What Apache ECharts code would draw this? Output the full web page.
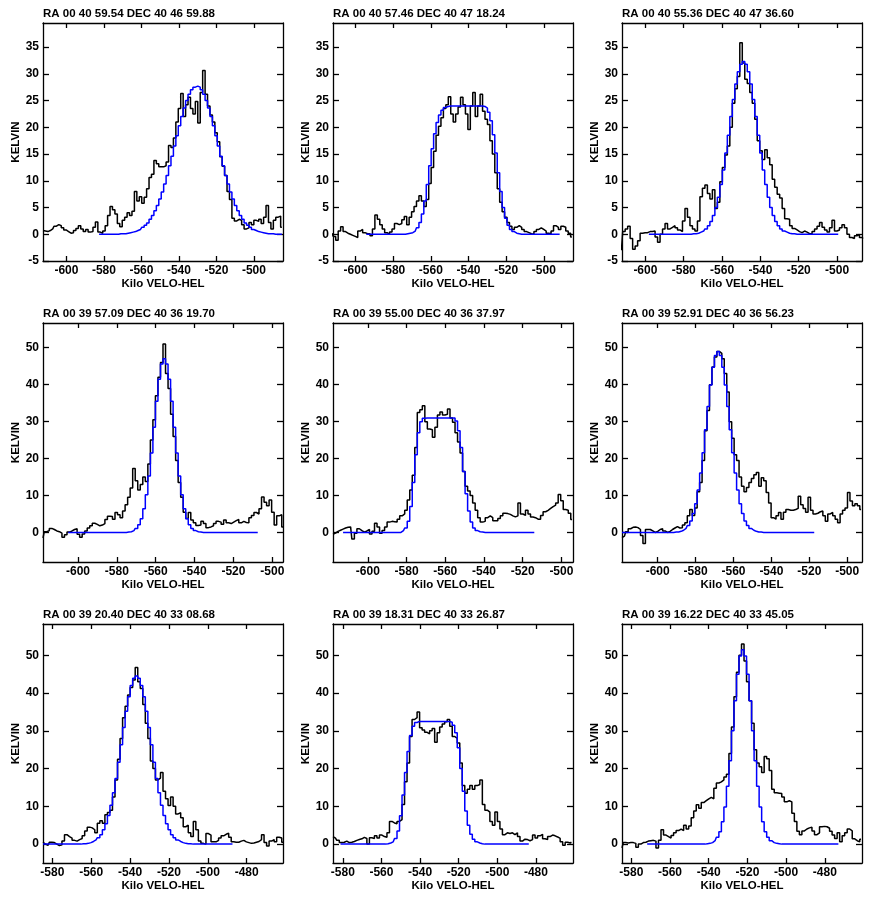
<!DOCTYPE html>
<html>
<head>
<meta charset="utf-8">
<title>HI spectra</title>
<script src="https://cdn.jsdelivr.net/npm/echarts@6/dist/echarts.min.js"></script>
<style>
    html, body { margin: 0; padding: 0; background: #fff; }
    #myChart { width: 872px; height: 921px; }
</style>
</head>
<body>
<div id="myChart"></div>
<script>
    // channel width of the spectra (km/s)
    const CHAN = 1.3;

    const titles = [
        'RA 00 40 59.54 DEC 40 46 59.88', 'RA 00 40 57.46 DEC 40 47 18.24', 'RA 00 40 55.36 DEC 40 47 36.60',
        'RA 00 39 57.09 DEC 40 36 19.70', 'RA 00 39 55.00 DEC 40 36 37.97', 'RA 00 39 52.91 DEC 40 36 56.23',
        'RA 00 39 20.40 DEC 40 33 08.68', 'RA 00 39 18.31 DEC 40 33 26.87', 'RA 00 39 16.22 DEC 40 33 45.05'
    ];

    // tick labels
    const xTicksA = [-600, -580, -560, -540, -520, -500];
    const xTicksB = [-580, -560, -540, -520, -500, -480];
    const yTicksA = [-5, 0, 5, 10, 15, 20, 25, 30, 35];
    const yTicksB = [0, 10, 20, 30, 40, 50];

    // axis extents per panel / per row
    const xRanges = [
        [-612.5, -484.5], [-612, -484.5], [-612.2, -487],
        [-618, -494.5], [-618, -494], [-618.8, -492.2],
        [-584.8, -461.3], [-585.1, -460.8], [-584.8, -460.8]
    ];
    const yRanges = [[-5, 39.5], [-8, 56.7], [-5, 58.3]];

    // velocity of the first channel of each observed spectrum / fit
    const specStart = [-612.5, -612.5, -612.5, -618, -618, -618.8, -584.8, -585.1, -584.8];
    const fitStart = [-582.6, -594.3, -598.2, -605, -612.8, -618.8, -584.8, -581.2, -571.8];

    // observed brightness temperature (K)
    const spec1 = [0.7,0.6,0.5,0.7,1.0,1.5,1.8,1.6,1.2,0.8,
        0.5,0.2,0.3,0.7,1.1,1.6,1.0,0.5,0.9,0.4,
        0.5,1.3,2.3,0.4,0.2,0.6,1.6,3.5,5.2,4.6,
        3.8,2.0,1.4,2.6,3.2,4.0,3.5,4.3,8.0,6.2,
        7.0,5.8,6.9,8.5,10.6,11.2,13.8,13.2,12.6,12.6,
        12.8,13.5,16.6,16.2,18.0,21.0,23.5,26.3,22.0,24.2,
        25.6,23.5,22.5,24.8,20.8,26.5,30.6,26.2,24.0,22.3,
        21.0,19.0,17.3,14.5,12.7,11.0,8.0,6.5,3.0,2.5,
        2.8,2.6,1.8,1.0,1.2,2.2,1.8,2.6,2.4,2.8,
        2.0,3.2,5.4,2.2,1.0,2.6,3.2,3.4,1.3];
    const spec2 = [0.2,-0.4,-1.1,0.6,1.4,0.5,0.2,0.0,-0.2,-0.4,
        -0.6,0.6,0.9,0.3,0.1,0.1,-0.3,1.0,3.6,2.8,
        1.8,1.0,0.3,0.0,0.4,1.0,2.0,1.8,2.0,2.7,
        3.3,1.8,3.2,4.2,5.2,6.2,7.2,6.2,5.2,6.5,
        9.5,12.5,15.5,18.5,20.2,21.8,23.5,24.2,25.7,22.5,
        21.0,22.5,23.8,25.6,24.2,22.5,19.6,24.0,26.5,22.0,
        24.0,26.2,23.0,21.5,20.5,17.5,15.0,11.5,8.5,6.0,
        4.2,3.2,2.2,1.5,0.9,1.3,1.6,1.3,0.9,0.5,
        0.3,0.1,0.0,0.5,0.9,1.2,0.9,0.6,0.2,0.1,
        0.6,1.6,1.3,0.9,1.5,1.3,0.6,0.2,-0.5];
    const spec3 = [-3.0,0.5,1.0,1.5,-0.8,-2.8,-2.2,-1.2,0.2,0.3,
        0.3,0.5,0.5,0.6,-0.5,-1.5,0.0,1.0,2.0,1.0,
        1.3,1.6,1.2,0.8,0.5,2.5,4.8,3.2,1.6,1.0,
        0.6,2.5,7.0,8.6,9.2,7.6,6.6,8.3,4.8,6.0,
        9.8,12.5,14.8,16.5,20.0,24.5,27.2,29.5,35.8,32.0,
        29.0,28.2,26.5,24.5,21.5,17.5,15.6,14.0,15.8,14.3,
        13.0,10.3,8.8,7.5,6.8,4.8,2.9,2.8,1.6,1.1,
        0.8,0.5,0.3,0.6,0.4,0.1,0.1,0.5,1.0,1.5,
        2.2,1.3,0.8,0.4,1.2,2.6,0.6,0.8,1.2,1.8,
        1.2,0.0,-0.6,-0.8,-0.3,0.0,-0.6,-0.8];
    const spec4 = [-1.5,0.2,0.5,1.1,0.8,0.4,0.2,-0.2,-1.3,-0.6,
        0.1,0.4,0.8,1.0,-0.5,-1.3,-0.4,0.4,1.2,1.8,
        2.5,2.2,1.8,2.0,2.4,3.5,4.4,4.3,3.6,5.4,
        4.8,4.0,5.8,7.5,9.5,12.0,17.3,14.0,11.5,13.0,
        15.0,13.8,18.5,25.0,30.5,37.0,42.0,46.0,51.0,43.0,
        39.0,32.0,26.0,19.5,13.5,9.5,5.5,3.8,5.4,3.4,
        2.6,1.9,2.0,3.0,2.4,1.3,1.5,1.8,2.4,3.0,
        2.8,2.2,3.4,2.6,2.4,2.8,3.2,3.5,2.6,3.0,
        2.7,2.6,4.0,4.6,5.4,5.0,6.4,9.6,8.2,7.2,
        8.8,5.5,2.0,4.5,4.8,1.5];
    const spec5 = [-0.5,-0.2,0.3,0.6,0.9,1.2,1.4,1.5,-1.8,-0.2,
        1.0,0.5,0.1,0.4,0.8,-0.4,0.3,2.5,1.5,-0.2,
        0.5,1.5,2.8,3.0,2.9,2.8,3.6,4.5,5.0,6.0,
        8.8,11.5,15.5,23.0,32.5,33.2,34.3,30.0,28.0,27.8,
        25.8,28.5,31.8,32.6,31.8,32.0,33.4,31.0,29.8,27.0,
        24.5,21.5,16.5,12.5,11.2,10.0,8.0,6.0,4.0,2.8,
        3.0,4.0,4.5,4.0,3.2,3.2,3.8,4.5,5.2,5.1,
        4.9,4.5,4.2,4.5,8.0,5.0,4.6,6.0,5.0,4.2,
        4.0,3.6,3.6,4.6,5.6,6.0,6.5,7.0,7.4,8.0,
        10.3,8.6,6.2,6.0,5.2,3.5];
    const spec6 = [-1.4,-1.0,0.2,1.0,1.4,1.5,1.3,0.8,-0.8,-3.0,
        0.8,0.8,0.4,0.0,0.3,0.8,1.0,0.4,0.0,0.3,
        0.8,1.2,1.6,1.2,1.3,2.0,2.6,4.5,6.2,4.6,
        6.6,11.0,13.5,19.5,27.5,33.0,40.0,44.8,47.5,49.0,
        48.5,47.0,43.0,38.0,30.0,25.5,21.0,19.5,15.0,12.5,
        11.0,12.2,13.5,14.6,15.6,16.2,12.5,14.8,14.0,10.8,
        8.0,4.0,3.6,4.5,5.4,3.6,5.5,6.2,6.0,6.0,
        6.2,6.5,9.8,7.5,6.5,5.5,9.5,6.0,5.0,5.2,
        5.6,5.8,4.5,3.0,5.0,5.4,4.5,3.6,2.6,5.0,
        6.0,6.6,10.8,8.5,7.2,7.8,7.2,6.2];
    const spec7 = [0.5,0.0,-0.3,0.5,0.4,0.0,-0.4,-0.2,0.8,2.5,
        2.0,1.6,1.0,0.8,1.2,1.5,2.2,3.5,4.5,4.3,
        3.8,3.0,5.5,6.2,5.5,7.8,8.4,9.0,12.5,17.0,
        22.5,28.0,33.5,36.5,39.5,41.5,43.5,46.8,43.0,41.2,
        37.0,32.0,28.0,22.0,20.0,17.0,17.5,19.0,14.0,12.0,
        10.2,12.5,10.0,8.0,8.3,7.0,4.6,5.0,3.0,2.0,
        6.0,3.8,0.8,0.2,0.0,2.8,2.4,0.6,0.6,1.0,
        1.6,2.2,2.6,2.9,1.8,0.6,0.5,0.5,0.8,1.0,
        0.6,0.4,0.2,0.3,0.5,0.7,1.2,2.5,0.4,-0.5,
        0.8,1.2,0.6,1.8,1.6,0.5];
    const spec8 = [2.0,1.6,1.0,0.4,0.5,0.8,0.4,0.5,0.7,1.0,
        1.2,1.4,1.8,1.5,0.0,1.7,1.5,2.2,1.6,2.4,
        2.0,1.8,3.0,6.0,5.6,5.4,6.0,6.5,10.5,16.5,
        21.5,28.5,33.0,33.5,35.0,30.8,30.2,29.6,29.2,30.0,
        30.6,27.0,29.5,31.0,31.8,32.4,33.0,31.2,28.5,28.0,
        26.8,21.5,15.5,13.5,14.5,15.5,14.5,15.5,15.8,17.0,
        10.5,9.0,8.5,6.0,5.0,8.5,6.0,4.0,2.5,3.0,
        2.8,3.0,2.5,3.0,2.0,0.8,1.3,1.2,0.9,1.2,
        2.4,1.6,2.2,2.6,1.4,1.2,2.0,2.4,2.2,1.9,
        1.5,0.6,-0.3,0.5,0.3,0.5];
    const spec9 = [-1.0,0.4,0.3,0.4,0.4,0.2,-0.8,0.0,0.4,0.5,
        0.8,0.9,1.0,0.8,-1.0,1.0,3.8,2.4,2.0,1.6,
        2.3,3.0,3.6,4.0,3.6,5.0,4.0,4.8,7.0,8.8,
        10.4,9.5,11.0,11.5,12.0,12.4,12.0,14.8,16.2,16.5,
        17.0,17.8,18.5,24.0,31.0,39.0,45.5,50.0,53.0,48.5,
        43.0,38.0,32.0,25.0,21.5,20.5,19.0,23.2,22.6,19.5,
        14.5,13.6,13.5,13.4,12.5,11.2,11.5,11.2,8.2,6.0,
        3.4,2.5,3.5,4.0,4.3,4.5,3.5,2.5,3.0,4.6,
        4.7,4.6,4.2,3.4,2.4,1.5,3.0,0.6,2.2,3.0,
        4.0,3.5,1.4,0.9,0.6,1.3];

    // fitted profiles (K)
    const fit1 = [0,0,0,0,0, 0,0,0,0,0.1, 0.1,0.1,0.2,0.3,0.4, 0.5,0.7,0.9,1.3,1.7,
        2.1,2.8,3.5,4.4,5.4, 6.6,7.9,9.4,11.0,12.8, 14.6,16.5,18.4,20.3,22.0, 23.6,25.0,26.2,27.0,27.5,
        27.7,
        27.5,27.0,26.2,25.0,23.6, 22.0,20.3,18.4,16.5,14.6, 12.8,11.0,9.4,7.9,6.6, 5.4,4.4,3.5,2.8,2.1,
        1.7,1.3,0.9,0.7,0.5, 0.4,0.3,0.2,0.1,0.1, 0.1,0,0,0,0];
    const fit2 = [0,0,0,0,0,0,0,0,0,0,0,0,0,0,0,0,
        0.0,0.1,0.2,
        0.3,0.6,1.2,2.2,3.8,6.2,9.3,12.8,16.0,18.8,20.9,22.3,23.2,23.7,23.9,
        24,24,24,24,24,24,24,24,24,24,24,24,24,24,
        23.9,23.6,22.8,21.2,18.6,15.2,11.5,8.0,5.0,3.0,1.7,0.9,0.5,0.2,0.1,
        0,0,0,0,0,0,0,0,0,0,0,0,0,0,0,0,0];
    const fit3 = [0,0,0,0,0,0,0,0,0,0,0,0,0,0,0,0,0,
        0.0,0.1,0.1,0.2,0.4,0.6,1.0,1.6,2.4,3.5,5.0,6.9,9.3,12.0,15.2,18.5,22.0,25.2,28.1,30.4,31.8,
        32.3,
        31.8,30.4,28.1,25.2,22.0,18.5,15.2,12.0,9.3,6.9,5.0,3.5,2.4,1.6,1.0,0.6,0.4,0.2,0.1,0.1,0.0,
        0,0,0,0,0,0,0,0,0,0,0,0,0,0,0,0,0];
    const fit4 = [0,0,0,0,0,0,0,0,0,0,0,0,0,0,0,0,0,0,0,0,0,0,0,
        0.0,0.1,0.2,0.5,1.1,2.1,3.7,6.4,10.2,15.3,21.5,28.5,35.5,41.5,45.6,
        47.0,
        45.6,41.5,35.5,28.5,21.5,15.3,10.2,6.4,3.7,2.1,1.1,0.5,0.2,0.1,0.0,
        0,0,0,0,0,0,0,0,0,0,0,0,0,0,0,0,0,0,0,0,0,0];
    const fit5 = [0,0,0,0,0,0,0,0,0,0,0,0,0,0,0,0,0,0,0,0,0,0,0,0,
        0.5,1.2,3.0,7.0,13.5,21.0,27.0,30.0,30.9,
        31,31,31,31,31,31,31,31,31,31,31,31,
        30.2,27.5,23.0,16.5,10.5,5.8,2.8,1.2,0.5,0.2,0.1,
        0,0,0,0,0,0,0,0,0,0,0,0,0,0,0,0,0,0,0,0,0];
    const fit6 = [0,0,0,0,0,0,0,0,0,0,0,0,0,0,0,0,0,0,0,0,0,0,
        0.1,0.1,0.3,0.6,1.1,1.9,3.1,5.1,7.8,11.5,16.1,21.6,27.8,34.1,39.9,44.7,47.9,
        49.0,
        47.9,44.7,39.9,34.1,27.8,21.6,16.1,11.5,7.8,5.1,3.1,1.9,1.1,0.6,0.3,0.1,0.1,
        0,0,0,0,0,0,0,0,0,0,0,0,0,0,0,0,0,0,0,0,0,0];
    const fit7 = [0,0,0,0,0,0,0,0,0,0,0,0,0,0,0,
        0.0,0.1,0.1,0.2,0.4,0.7,1.1,1.7,2.5,3.8,5.4,7.6,10.3,13.6,17.4,21.7,26.3,30.9,35.2,39.0,42.0,43.9,
        44.5,
        43.9,42.0,39.0,35.2,30.9,26.3,21.7,17.4,13.6,10.3,7.6,5.4,3.8,2.5,1.7,1.1,0.7,0.4,0.2,0.1,0.1,0.0,
        0,0,0,0,0,0,0,0,0,0,0,0,0,0,0,0];
    const fit8 = [0,0,0,0,0,0,0,0,0,0,0,0,0,0,0,0,0,0,0,0.1,
        0.3,0.6,1.5,3.5,7.5,13.0,19.0,24.5,28.8,31.2,32.2,
        32.5,32.5,32.5,32.5,32.5,32.5,32.5,32.5,32.5,32.5,32.5,32.5,32.5,
        32.3,31.5,29.5,25.5,20.0,14.0,8.8,5.0,2.6,1.3,0.6,0.3,0.1,
        0,0,0,0,0,0,0,0,0,0,0,0,0,0,0,0,0,0,0];
    const fit9 = [0,0,0,0,0,0,0,0,0,0,0,0,0,0,0,0,0,0,0,0,0,0,0,0,
        0.1,0.2,0.4,0.9,1.8,3.3,5.9,9.8,15.3,22.1,30.0,38.0,45.0,49.8,
        51.5,
        49.8,45.0,38.0,30.0,22.1,15.3,9.8,5.9,3.3,1.8,0.9,0.4,0.2,0.1,
        0,0,0,0,0,0,0,0,0,0,0,0,0,0,0,0,0,0,0,0,0,0,0,0];

    const specs = [spec1, spec2, spec3, spec4, spec5, spec6, spec7, spec8, spec9];
    const fits = [fit1, fit2, fit3, fit4, fit5, fit6, fit7, fit8, fit9];

    // channel index -> velocity
    function toPairs(start, values) {
        return values.map((t, i) => [start + i * CHAN, t]);
    }

    const FONT = 'Liberation Sans, Arial, sans-serif';
    const colLeft = [43, 333, 622];
    const rowTop = [23, 323, 624];
    const rowHeight = [238, 239, 239];
    const titleTop = [8, 308, 609];

    const frame = { color: '#000', width: 1.3 };

    let option = {
        backgroundColor: '#fff',
        animation: false,
        title: [],
        grid: [],
        xAxis: [],
        yAxis: [],
        series: []
    };

    for (let p = 0; p < 9; p++) {
        let r = Math.floor(p / 3);
        let c = p % 3;
        let xt = r === 2 ? xTicksB : xTicksA;
        let yt = r === 0 ? yTicksA : yTicksB;

        option.title.push({
            text: titles[p],
            left: colLeft[c],
            top: titleTop[r],
            padding: 0,
            textStyle: { fontFamily: FONT, fontSize: 11.5, fontWeight: 'bold', color: '#000' }
        });
        option.grid.push({
            left: colLeft[c], top: rowTop[r], width: 240, height: rowHeight[r],
            outerBoundsMode: 'none'
        });

        // bottom and top x axes
        option.xAxis.push({
            type: 'value', gridIndex: p, position: 'bottom',
            min: xRanges[p][0], max: xRanges[p][1],
            name: 'Kilo VELO-HEL', nameLocation: 'middle', nameGap: 16,
            nameTextStyle: { fontFamily: FONT, fontSize: 11.5, fontWeight: 'bold', color: '#000' },
            axisLine: { show: true, onZero: false, lineStyle: frame },
            axisTick: { show: true, inside: true, length: 5, customValues: xt, lineStyle: frame },
            axisLabel: { customValues: xt, margin: 4, fontFamily: FONT, fontSize: 12, fontWeight: 'bold', color: '#000' },
            splitLine: { show: false }
        });
        option.xAxis.push({
            type: 'value', gridIndex: p, position: 'top',
            min: xRanges[p][0], max: xRanges[p][1],
            axisLine: { show: true, onZero: false, lineStyle: frame },
            axisTick: { show: true, inside: true, length: 5, customValues: xt, lineStyle: frame },
            axisLabel: { show: false },
            splitLine: { show: false }
        });

        // left and right y axes
        option.yAxis.push({
            type: 'value', gridIndex: p, position: 'left',
            min: yRanges[r][0], max: yRanges[r][1],
            name: 'KELVIN', nameLocation: 'middle', nameGap: 20,
            nameTextStyle: { fontFamily: FONT, fontSize: 11.5, fontWeight: 'bold', color: '#000' },
            axisLine: { show: true, onZero: false, lineStyle: frame },
            axisTick: { show: true, inside: true, length: 6, customValues: yt, lineStyle: frame },
            axisLabel: { customValues: yt, margin: 4, fontFamily: FONT, fontSize: 12, fontWeight: 'bold', color: '#000' },
            splitLine: { show: false }
        });
        option.yAxis.push({
            type: 'value', gridIndex: p, position: 'right',
            min: yRanges[r][0], max: yRanges[r][1],
            axisLine: { show: true, onZero: false, lineStyle: frame },
            axisTick: { show: true, inside: true, length: 6, customValues: yt, lineStyle: frame },
            axisLabel: { show: false },
            splitLine: { show: false }
        });

        option.series.push({
            type: 'line', step: 'middle', symbol: 'none', silent: true,
            xAxisIndex: 2 * p, yAxisIndex: 2 * p,
            lineStyle: { color: '#000', width: 1.5 },
            data: toPairs(specStart[p], specs[p])
        });
        option.series.push({
            type: 'line', step: 'middle', symbol: 'none', silent: true,
            xAxisIndex: 2 * p, yAxisIndex: 2 * p,
            lineStyle: { color: '#0000ff', width: 1.5 },
            data: toPairs(fitStart[p], fits[p])
        });
    }

    let myChart = echarts.init(document.getElementById('myChart'), null, { renderer: 'canvas' });
    myChart.setOption(option);
</script>
</body>
</html>
